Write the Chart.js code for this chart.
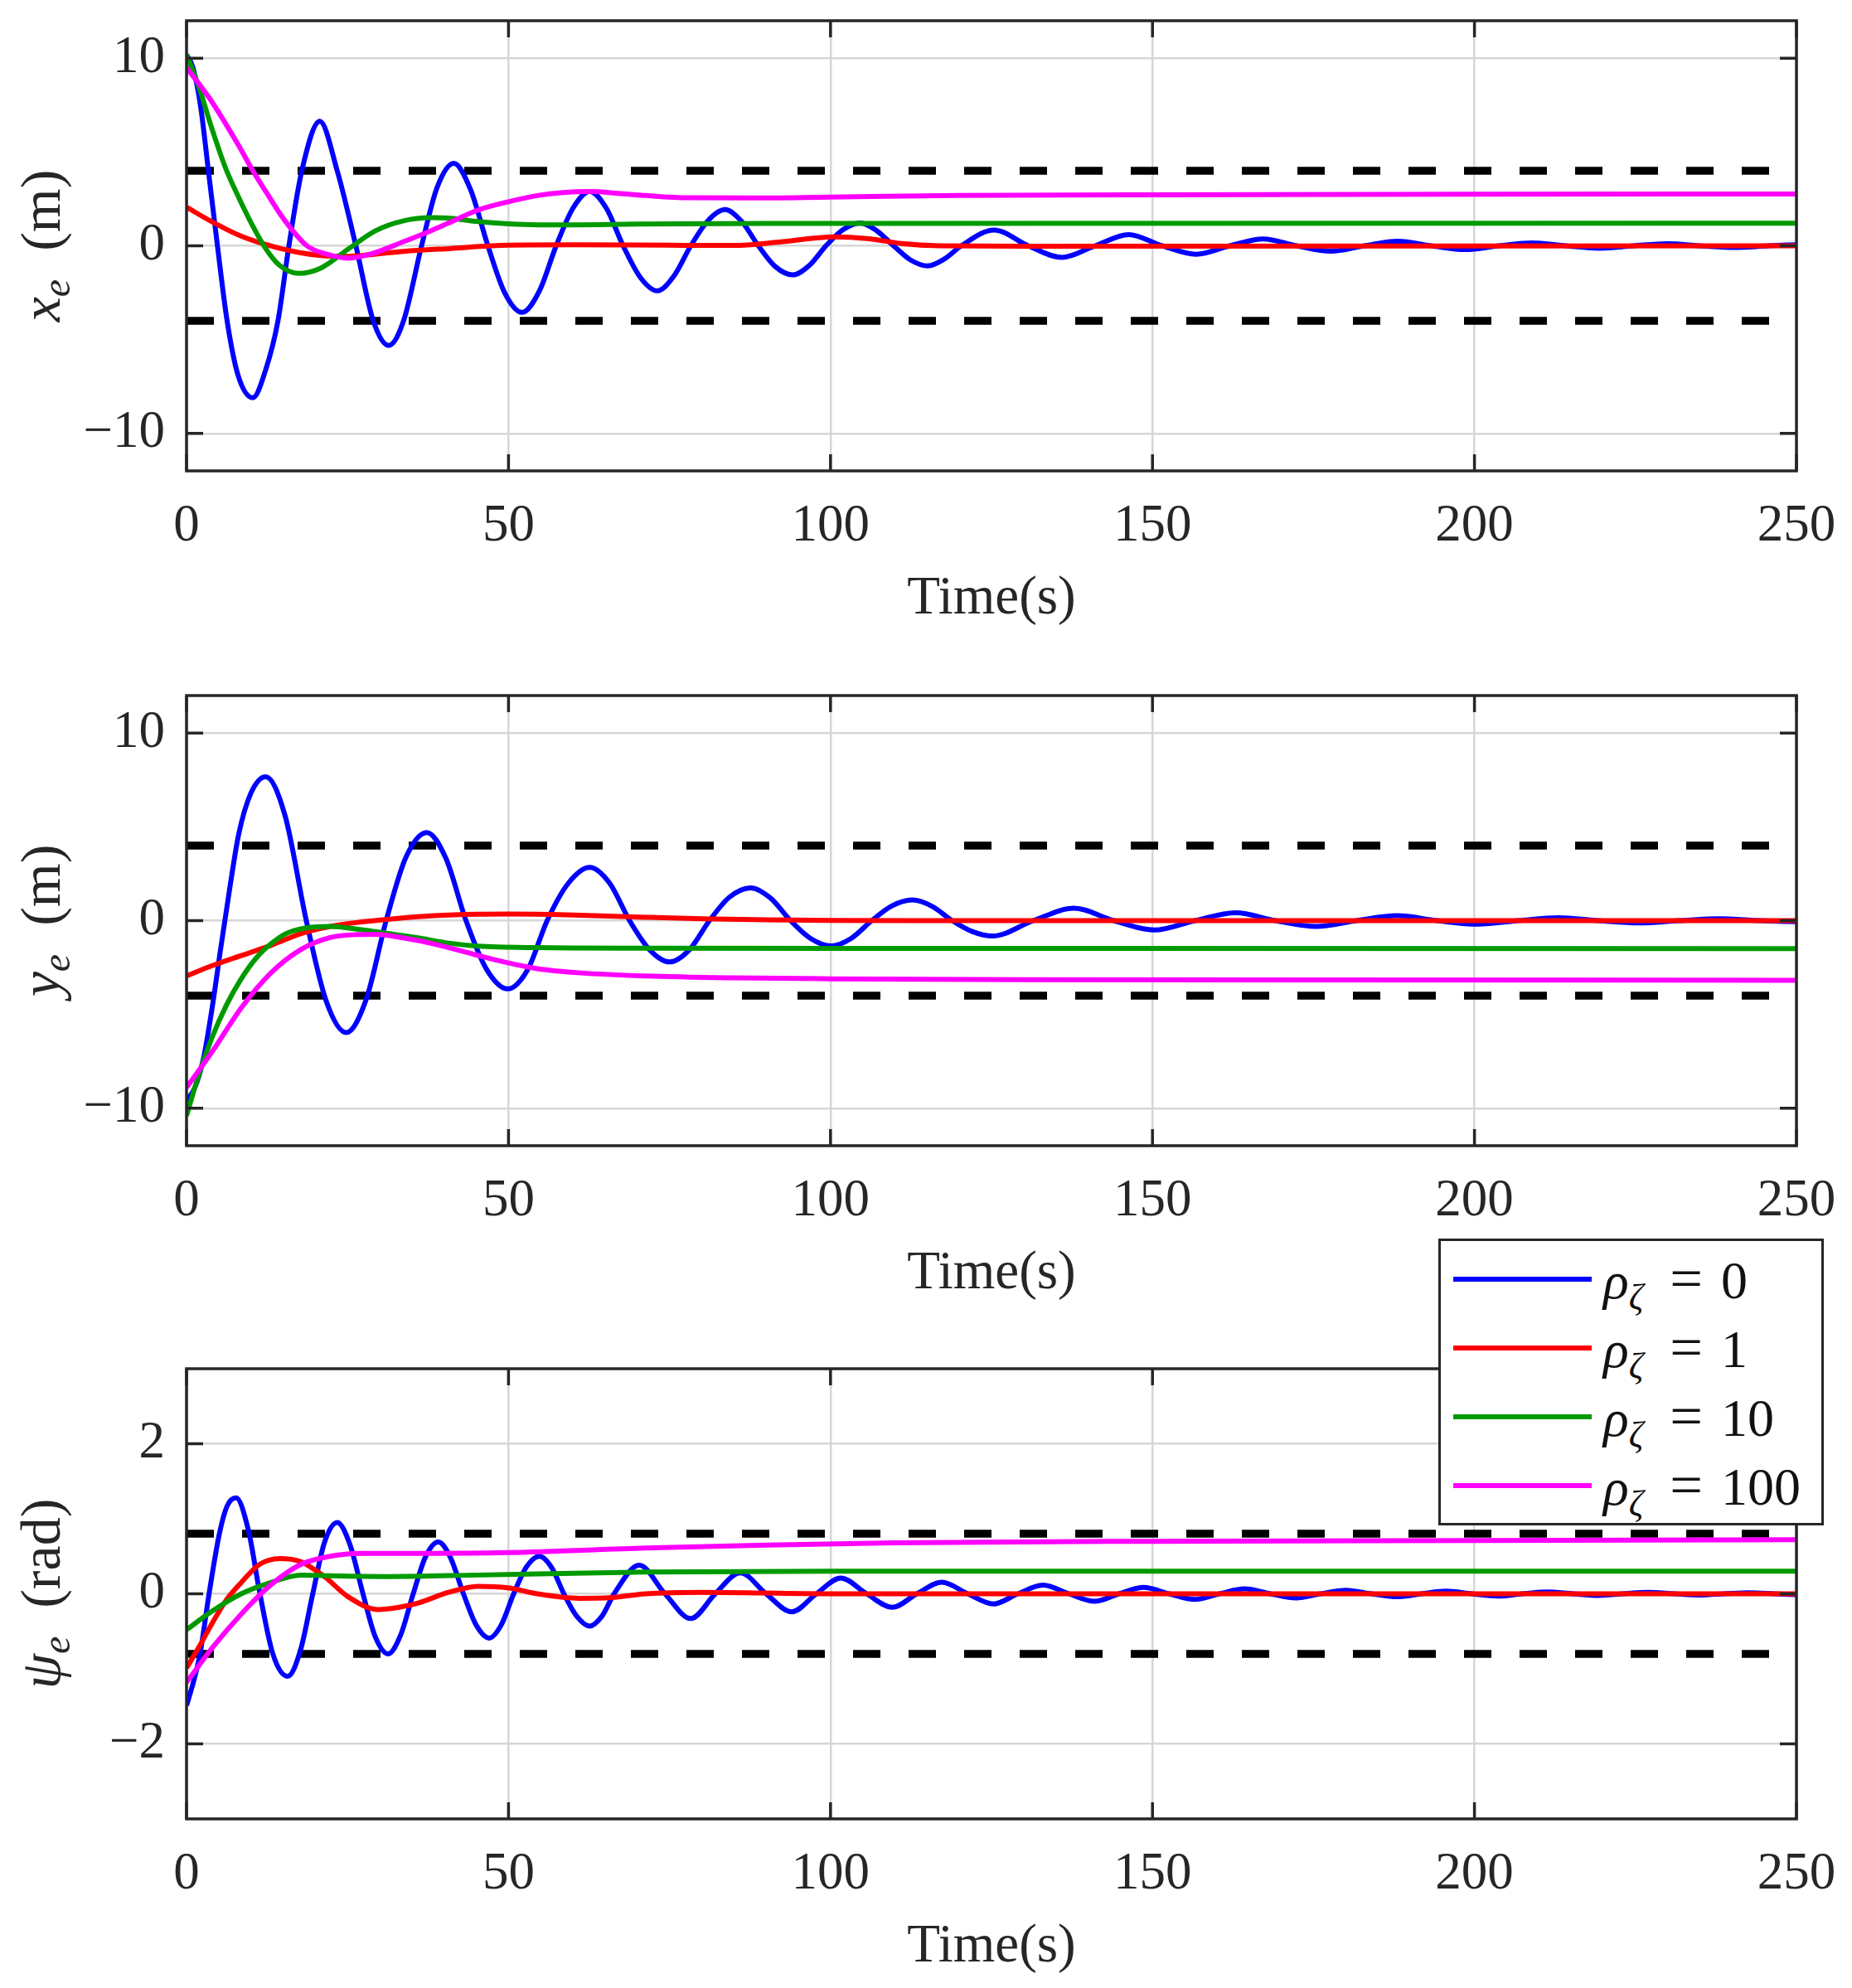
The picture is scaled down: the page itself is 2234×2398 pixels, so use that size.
<!DOCTYPE html>
<html lang="en">
<head>
  <meta charset="UTF-8">
  <title>Tracking errors</title>
  <script src="https://cdn.jsdelivr.net/npm/chart.js"></script>
  <style>
    html, body {
      margin: 0;
      padding: 0;
      background: #fff;
      overflow: hidden;
    }
    body {
      width: 2234px;
      height: 2398px;
      position: relative;
      font-family: 'Liberation Serif', serif;
    }
    .panel {
      position: absolute;
      left: 0;
      width: 2234px;
      height: 772px;
    }
    .legend {
      position: absolute;
      left: 1735px;
      top: 1494px;
      width: 465px;
      height: 346px;
      box-sizing: border-box;
      border: 3px solid #262626;
      background: #fff;
      padding-top: 4px;
      z-index: 5;
      color: #111;
    }
    .legend-item {
      display: flex;
      align-items: center;
      height: 83px;
    }
    .legend-line {
      width: 167px;
      height: 6px;
      margin-left: 15px;
    }
    .legend-text {
      margin-left: 14px;
      font-size: 64px;
      line-height: 1;
      white-space: nowrap;
    }
    .legend-text .sub {
      position: relative;
      top: 0.3em;
      font-size: 0.68em;
    }
    .legend-text .eq {
      margin: 0 22px 0 32px;
      font-size: 1.1em;
    }
  </style>
</head>
<body>
  <div class="panel" style="top:0px"><canvas id="xeChart" width="2234" height="772"></canvas></div>
  <div class="panel" style="top:814px"><canvas id="yeChart" width="2234" height="772"></canvas></div>
  <div class="panel" style="top:1626px"><canvas id="psiChart" width="2234" height="772"></canvas></div>
  <div class="legend" id="chartLegend"></div>

  <script>
    // axes
    const timeTicks = [0, 50, 100, 150, 200, 250];
    const posTicks = [-10, 0, 10];
    const psiTicks = [-2, 0, 2];
    const rhoLabels = ['0', '1', '10', '100'];
    const rhoColors = ['#0000ff', '#ff0000', '#009a00', '#ff00ff'];
    const xeBound = 4;
    const yeBound = 4;
    const psiBound = 0.8;

    // x_e (m), [time, value]
    const xeRho0 = [[0,10.2],[1,9.5],[2.2,7.4],[3.4,4],[4.8,0],[6.3,-4],[8,-6.9],[10.3,-8.1],[12.3,-6.6],[14.2,-4],[15.9,0],[17.9,4],[20.7,6.64],[23.4,4],[26.3,0],[29,-4],[31.4,-5.31],[33.7,-4],[36.5,0],[38.9,3.1],[41.5,4.4],[44.1,3.0],[46.8,0],[49.4,-2.5],[52.1,-3.55],[54.8,-2.4],[57.4,0],[60,2.0],[62.6,2.9],[65.2,2.0],[67.8,0],[70.5,-1.7],[73.1,-2.4],[75.7,-1.6],[78.3,0],[81,1.35],[83.6,1.93],[86.2,1.3],[88.8,0],[91.4,-1.1],[94.1,-1.55],[96.7,-1.05],[99.3,0],[101.9,0.85],[104.6,1.22],[107.2,0.8],[109.8,0],[112.4,-0.75],[115.1,-1.07],[117.7,-0.7],[120.3,0],[125.4,0.84],[130.7,0],[135.9,-0.62],[141.1,0],[146.3,0.6],[151.5,0],[156.8,-0.45],[162,0],[167.2,0.37],[172.4,0],[177.7,-0.29],[182.9,0],[188.1,0.24],[193.3,0],[198.6,-0.2],[203.8,0],[209,0.16],[214.2,0],[219.5,-0.13],[224.7,0],[229.9,0.11],[235.1,0],[240.4,-0.09],[245.6,0],[250,0.06]];
    const xeRho1 = [[0,2.06],[3.7,1.33],[8,0.59],[12.3,0.07],[16.6,-0.3],[20.9,-0.52],[25.2,-0.56],[29.4,-0.44],[33.7,-0.3],[40.6,-0.15],[50,0.03],[60,0.05],[75,0.03],[85,0.02],[92,0.2],[100.5,0.48],[106,0.38],[111,0.12],[117,0],[130,-0.02],[250,0]];
    const xeRho10 = [[0,10.2],[2,8.4],[3.7,6.5],[6,4.2],[8,2.65],[10.1,1.18],[12.3,-0.15],[14.4,-1.03],[17.4,-1.47],[20.9,-1.18],[25.2,-0.15],[29.4,0.81],[33.7,1.33],[38,1.5],[41,1.47],[45.3,1.29],[50,1.17],[54.5,1.12],[60,1.12],[70,1.16],[90,1.19],[250,1.2]];
    const xeRho100 = [[0,9.5],[3.7,7.8],[8,5.4],[10.3,4],[12.3,2.9],[15.3,1.33],[18.7,0],[21.7,-0.44],[25.2,-0.66],[28.6,-0.44],[33.7,0.22],[38,0.81],[40.6,1.2],[45.3,1.91],[50,2.35],[54.5,2.68],[58.5,2.84],[62.7,2.89],[67,2.8],[71.3,2.68],[78,2.56],[88,2.55],[100,2.6],[120,2.68],[150,2.72],[200,2.75],[250,2.76]];

    // y_e (m)
    const yeRho0 = [[0,-9.6],[1.3,-8.9],[2.6,-7.4],[4,-4.6],[5.3,-1.5],[6.7,1.7],[8.1,4.6],[10,6.8],[12.3,7.67],[15.3,5.6],[18.6,0],[21.7,-4.3],[24.8,-5.97],[27.9,-4.2],[31,0],[34.1,3.4],[37.3,4.7],[40.3,3.3],[43.4,0],[46.6,-2.6],[49.9,-3.64],[53,-2.6],[56,0],[59.3,2.0],[62.6,2.84],[65.7,2.0],[68.8,0],[71.9,-1.55],[75,-2.2],[78.1,-1.55],[81.2,0],[84.3,1.25],[87.6,1.75],[90.7,1.2],[93.8,0],[96.9,-0.95],[100.1,-1.35],[103.2,-0.95],[106.4,0],[109.5,0.78],[112.7,1.1],[115.8,0.76],[118.9,0],[122,-0.58],[125.2,-0.82],[131.5,0],[137.8,0.66],[144,0],[150.3,-0.5],[156.6,0],[162.9,0.42],[169.1,0],[175.4,-0.31],[181.7,0],[188,0.26],[194.2,0],[200.5,-0.19],[206.8,0],[213,0.16],[219.3,0],[225.6,-0.12],[231.8,0],[238,0.1],[244.3,0],[250,-0.06]];
    const yeRho1 = [[0,-2.95],[4,-2.4],[8.5,-1.86],[13.1,-1.32],[17.7,-0.7],[22.3,-0.31],[26.9,-0.08],[31.5,0.08],[38.4,0.26],[45.3,0.34],[50,0.35],[59,0.31],[71.3,0.18],[80,0.1],[90,0.04],[100,0.01],[120,0],[250,0]];
    const yeRho10 = [[0,-10.4],[1.65,-8.5],[4,-6.2],[6.2,-4.5],[8.5,-3.1],[10.8,-2.0],[13.1,-1.24],[15.4,-0.7],[18.6,-0.39],[22.3,-0.31],[26.9,-0.47],[31.5,-0.7],[36.1,-0.93],[40.7,-1.2],[45.3,-1.36],[54.5,-1.44],[71.3,-1.47],[100,-1.48],[250,-1.49]];
    const yeRho100 = [[0,-8.9],[4,-6.98],[8.5,-4.65],[13.1,-2.79],[17.7,-1.55],[22.3,-0.9],[26.9,-0.74],[29.2,-0.73],[33.8,-0.93],[38.4,-1.24],[45.3,-1.86],[49.9,-2.25],[54.5,-2.56],[61.3,-2.79],[71.3,-2.95],[85,-3.05],[100,-3.1],[130,-3.15],[250,-3.18]];

    // psi_e (rad)
    const psiRho0 = [[0,-1.49],[1,-1.2],[2.1,-0.8],[3.5,0],[5.1,0.8],[6.3,1.17],[7.7,1.28],[9.6,0.85],[11.4,0],[13.4,-0.8],[15.7,-1.1],[17.7,-0.75],[19.6,0],[21.4,0.68],[23.4,0.95],[25.4,0.65],[27.4,0],[29.3,-0.57],[31.3,-0.8],[33.2,-0.56],[35.2,0],[37.1,0.49],[39.1,0.69],[41,0.48],[43,0],[45,-0.42],[47,-0.59],[48.9,-0.41],[50.8,0],[52.8,0.36],[54.8,0.5],[56.7,0.35],[58.6,0],[60.6,-0.3],[62.6,-0.43],[64.5,-0.3],[66.4,0],[70.3,0.38],[74.3,0],[78.3,-0.33],[82.1,0],[86,0.28],[90,0],[94,-0.24],[97.8,0],[101.6,0.21],[105.6,0],[109.6,-0.18],[113.4,0],[117.3,0.155],[121.3,0],[125.3,-0.135],[129.1,0],[133,0.115],[137,0],[141,-0.1],[144.8,0],[148.6,0.085],[152.6,0],[156.6,-0.075],[160.4,0],[164.3,0.065],[168.3,0],[172.3,-0.055],[176.1,0],[180,0.048],[184,0],[188,-0.04],[191.8,0],[195.6,0.035],[199.6,0],[203.6,-0.03],[207.4,0],[211.3,0.026],[215.3,0],[219.3,-0.022],[223.1,0],[227,0.019],[231,0],[235,-0.016],[238.8,0],[242.6,0.014],[246.6,0],[250,-0.012]];
    const psiRho1 = [[0,-0.99],[2,-0.7],[4,-0.39],[6.2,-0.08],[8.5,0.15],[11.3,0.39],[14.5,0.47],[17.7,0.43],[21.4,0.23],[25.1,-0.04],[29.8,-0.21],[33,-0.18],[36.1,-0.12],[40.7,0.02],[45.3,0.1],[49.9,0.08],[54.5,0],[61,-0.06],[66,-0.05],[71.3,0],[80,0.02],[100,0],[250,0]];
    const psiRho10 = [[0,-0.48],[4,-0.23],[8.5,0],[13.1,0.15],[17.7,0.25],[22.3,0.24],[31.5,0.23],[45.3,0.25],[71.3,0.29],[100,0.3],[250,0.3]];
    const psiRho100 = [[0,-1.18],[4,-0.72],[8.5,-0.27],[13.1,0.12],[17.7,0.39],[22.3,0.5],[26.9,0.54],[36.1,0.54],[49.9,0.55],[71.3,0.61],[90,0.65],[110,0.68],[150,0.7],[200,0.71],[250,0.72]];

    const FONT = 'Liberation Serif';
    const INK = '#262626';

    // box, inward ticks on all four sides and the rotated y label
    const matlabFrame = {
      id: 'matlabFrame',
      afterDraw(chart, args, opts) {
        const ctx = chart.ctx;
        const { left, right, top, bottom } = chart.chartArea;
        const sx = chart.scales.x;
        const sy = chart.scales.y;
        ctx.save();
        ctx.strokeStyle = INK;
        ctx.lineWidth = 3.5;
        ctx.strokeRect(left, top, right - left, bottom - top);
        ctx.beginPath();
        sx.ticks.forEach(t => {
          const px = sx.getPixelForValue(t.value);
          ctx.moveTo(px, bottom); ctx.lineTo(px, bottom - 20);
          ctx.moveTo(px, top); ctx.lineTo(px, top + 20);
        });
        sy.ticks.forEach(t => {
          const py = sy.getPixelForValue(t.value);
          ctx.moveTo(left, py); ctx.lineTo(left + 20, py);
          ctx.moveTo(right, py); ctx.lineTo(right - 20, py);
        });
        ctx.stroke();

        // y label: italic symbol, subscript, unit
        const parts = opts.label;
        let total = 0;
        parts.forEach(p => {
          ctx.font = (p.it ? 'italic ' : '') + (p.sub ? 48 : 68) + 'px "' + FONT + '"';
          p.w = ctx.measureText(p.t).width;
          total += p.w;
        });
        ctx.translate(52, (top + bottom) / 2);
        ctx.rotate(-Math.PI / 2);
        ctx.fillStyle = INK;
        ctx.textBaseline = 'alphabetic';
        let cx = -total / 2;
        parts.forEach(p => {
          ctx.font = (p.it ? 'italic ' : '') + (p.sub ? 48 : 68) + 'px "' + FONT + '"';
          ctx.fillText(p.t, cx, p.sub ? 32 : 20);
          cx += p.w;
        });
        ctx.restore();
      }
    };

    function toPoints(arr) {
      return arr.map(p => ({ x: p[0], y: p[1] }));
    }

    function tickText(v) {
      return v < 0 ? '\u2212' + Math.abs(v) : String(v);
    }

    function makeChart(id, series, bound, yMax, yTicks, label) {
      const datasets = series.map((pts, i) => ({
        label: 'rho = ' + rhoLabels[i],
        data: toPoints(pts),
        borderColor: rhoColors[i],
        borderWidth: 6,
        pointRadius: 0,
        cubicInterpolationMode: 'monotone',
        order: 4 - i
      }));
      [bound, -bound].forEach(b => {
        datasets.push({
          label: 'bound',
          data: [{ x: 0, y: b }, { x: 250, y: b }],
          borderColor: '#000',
          borderWidth: 9.5,
          borderDash: [33, 34],
          borderCapStyle: 'butt',
          pointRadius: 0,
          order: 5
        });
      });

      return new Chart(document.getElementById(id), {
        type: 'line',
        data: { datasets: datasets },
        plugins: [matlabFrame],
        options: {
          responsive: false,
          animation: false,
          devicePixelRatio: 1,
          events: [],
          layout: { padding: { top: 25, right: 67, left: 0, bottom: 0 } },
          plugins: {
            legend: { display: false },
            tooltip: { enabled: false },
            matlabFrame: { label: label }
          },
          scales: {
            x: {
              type: 'linear',
              min: 0,
              max: 250,
              afterBuildTicks: s => { s.ticks = timeTicks.map(v => ({ value: v })); },
              afterFit: s => { s.height = 204; s.paddingLeft = 0; s.paddingRight = 0; },
              grid: { color: '#d6d6d6', lineWidth: 2.5, drawTicks: false },
              border: { display: false },
              ticks: { font: { family: FONT, size: 63 }, color: INK, padding: 30, maxRotation: 0, autoSkip: false },
              title: { display: true, text: 'Time(s)', font: { family: FONT, size: 65 }, color: INK, padding: { top: 0, bottom: 10 } }
            },
            y: {
              type: 'linear',
              min: -yMax,
              max: yMax,
              afterBuildTicks: s => { s.ticks = yTicks.map(v => ({ value: v })); },
              afterFit: s => { s.width = 225; s.paddingTop = 0; s.paddingBottom = 0; },
              grid: { color: '#d6d6d6', lineWidth: 2.5, drawTicks: false },
              border: { display: false },
              ticks: { font: { family: FONT, size: 63 }, color: INK, padding: 26, callback: tickText }
            }
          }
        }
      });
    }

    makeChart('xeChart', [xeRho0, xeRho1, xeRho10, xeRho100], xeBound, 12, posTicks,
      [{ t: 'x', it: true }, { t: 'e', it: true, sub: true }, { t: '  (m)' }]);
    makeChart('yeChart', [yeRho0, yeRho1, yeRho10, yeRho100], yeBound, 12, posTicks,
      [{ t: 'y', it: true }, { t: 'e', it: true, sub: true }, { t: '  (m)' }]);
    makeChart('psiChart', [psiRho0, psiRho1, psiRho10, psiRho100], psiBound, 3, psiTicks,
      [{ t: '\u03c8', it: true }, { t: 'e', it: true, sub: true }, { t: '  (rad)' }]);

    // legend box laid over the lower panels
    const legendContainer = document.getElementById('chartLegend');
    rhoLabels.forEach((val, index) => {
      const item = document.createElement('div');
      item.classList.add('legend-item');

      const line = document.createElement('div');
      line.classList.add('legend-line');
      line.style.backgroundColor = rhoColors[index];

      const text = document.createElement('span');
      text.classList.add('legend-text');
      text.innerHTML = '<i>\u03c1</i><i class="sub">\u03b6</i><span class="eq">=</span>' + val;

      item.appendChild(line);
      item.appendChild(text);
      legendContainer.appendChild(item);
    });
  </script>
</body>
</html>
